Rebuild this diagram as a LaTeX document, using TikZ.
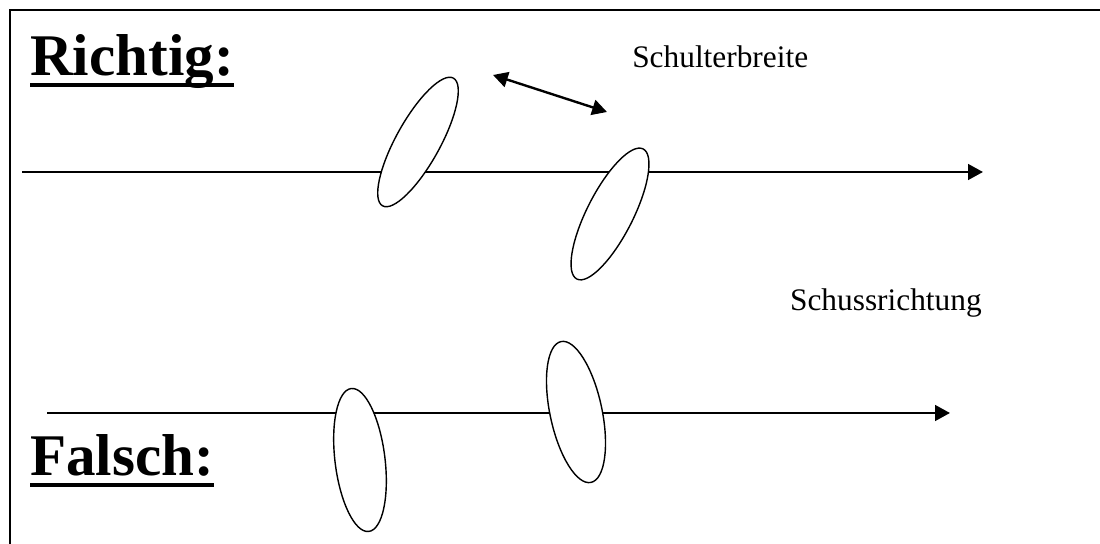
\documentclass[tikz,border=0pt]{standalone}
\usepackage{fontspec}
\setmainfont{Liberation Serif}
\usetikzlibrary{arrows.meta}
\begin{document}
\begin{tikzpicture}[x=0.025cm,y=0.025cm,
        axis/.style={line width=1.7pt,-{Triangle[length=10.5pt,width=11pt]}},
        foot/.style={draw,line width=1pt,fill=white},
        heading/.style={inner sep=0pt,anchor=base west,font=\fontsize{42}{48}\selectfont\bfseries},
        label/.style={inner sep=0pt,font=\fontsize{22.3}{26}\selectfont}]
                \useasboundingbox (0,0) rectangle (1100,544);
                \draw[line width=1.3pt] (10,0) -- (10,534) -- (1100,534);
                \node[heading] (R) at (30,468) {Richtig:};
                \draw[line width=2.9pt] (R.west |- 0,459) -- (R.east |- 0,459);
                \node[heading] (F) at (30,68) {Falsch:};
                \draw[line width=2.9pt] (F.west |- 0,59) -- (F.east |- 0,59);
                \coordinate (A1) at (22,372);
                \coordinate (A2) at (983,372);
                \coordinate (B1) at (47,131);
                \coordinate (B2) at (950,131);
                \draw[axis] (A1) -- (A2);
                \draw[axis] (B1) -- (B2);
                \draw[foot,rotate around={61:(418,402)}] (418,402) ellipse [x radius=73,y radius=22];
                \draw[foot,rotate around={63:(610,330)}] (610,330) ellipse [x radius=73,y radius=23];
                \draw[foot,rotate around={97:(360,84)}] (360,84) ellipse [x radius=72,y radius=25];
                \draw[foot,rotate around={102:(576,132)}] (576,132) ellipse [x radius=72,y radius=26];
                \coordinate (S1) at (493,469);
                \coordinate (S2) at (607,432);
                \draw[line width=1.7pt,{Triangle[length=10.5pt,width=11pt]}-{Triangle[length=10.5pt,width=11pt]}] (S1) -- (S2);
                \node[label,anchor=base west] (SB) at (632,476) {Schulterbreite};
                \node[label,anchor=base east] (SR) at (982,233) {Schussrichtung};
\end{tikzpicture}
\end{document}
